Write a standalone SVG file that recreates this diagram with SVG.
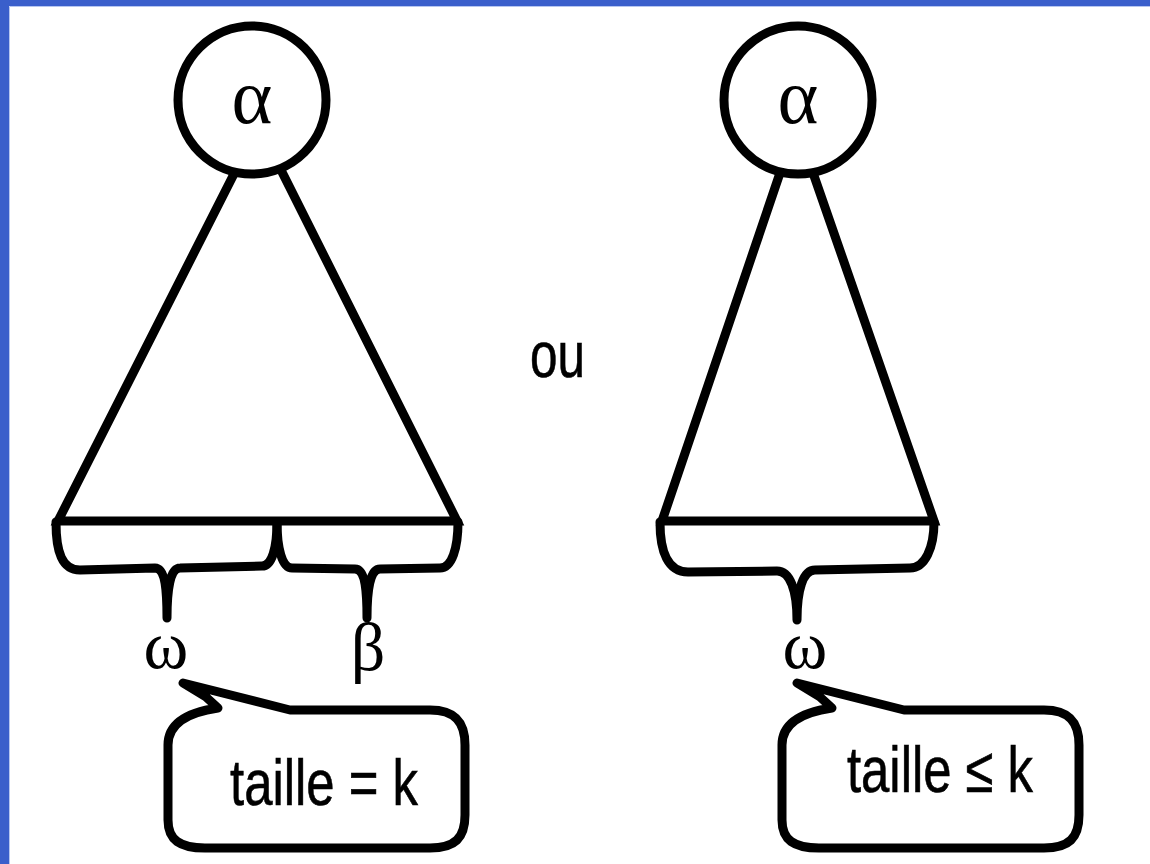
<svg xmlns="http://www.w3.org/2000/svg" width="1150" height="864" viewBox="0 0 1150 864">
  <style>
    .ln { fill: none; stroke: #000; stroke-width: 9; stroke-linejoin: miter; stroke-linecap: round; }
    .node { fill: #fff; stroke: #000; stroke-width: 9; }
    .brace { fill: none; stroke: #000; stroke-width: 9; stroke-linecap: round; stroke-linejoin: round; }
    .bubble { fill: #fff; stroke: #000; stroke-width: 9; stroke-linejoin: round; }
    .greek { font-family: "Liberation Serif", "DejaVu Serif", serif; fill: #000; text-anchor: middle; }
    .alpha { font-size: 78px; }
    .lbl { font-size: 68px; }
    .sans { font-family: "Liberation Sans", Arial, sans-serif; font-size: 64px; fill: #000; stroke: #000; stroke-width: 0.6; }
  </style>

  <rect x="0" y="0" width="1150" height="864" fill="#fff"/>
  <!-- slide frame edges -->
  <rect x="0" y="0" width="1150" height="6" fill="#3a5fcb"/>
  <rect x="0" y="0" width="9" height="864" fill="#3a5fcb"/>
  <path d="M9.5,864 V6.5 H1150" fill="none" stroke="#b6c6f0" stroke-width="1"/>

  <!-- triangles, bases and braces -->
  <g id="connectors">
    <path class="ln" d="M236,170 L58,521 L457,521 L280,168"/>
    <path class="brace" d="M56,522 C56,552 62,570 80,570 L155,568 C165,568 167,590 167,618 C167,590 170,568 180,568 L262,566 C272,566 277,548 277,522"/>
    <path class="brace" d="M277,522 C277,548 282,568 292,568 L355,569 C365,569 367,590 367,618 C367,590 370,569 380,569 L440,568 C452,568 458,548 458,522"/>

    <path class="ln" d="M781,170 L662,521 L934,521 L812,170"/>
    <path class="brace" d="M660,522 C660,552 668,572 688,572 L777,571 C790,571 797,590 797,620 C797,590 803,570 815,570 L910,568 C925,568 934,548 934,522"/>
  </g>

  <g id="root-left">
    <circle class="node" cx="252" cy="100" r="74"/>
    <text class="greek alpha" x="252" y="123">α</text>
  </g>
  <g id="root-right">
    <circle class="node" cx="798" cy="100" r="74"/>
    <text class="greek alpha" x="798" y="123">α</text>
  </g>

  <g id="label-omega-left"><text class="greek lbl" x="166" y="668">ω</text></g>
  <g id="label-beta"><text class="greek lbl" x="368" y="670">β</text></g>
  <g id="label-omega-right"><text class="greek lbl" x="805" y="668">ω</text></g>

  <g id="label-ou"><text class="sans" x="530" y="377" textLength="55" lengthAdjust="spacingAndGlyphs">ou</text></g>

  <g id="callout-left">
    <path class="bubble" d="M290,710 L183,683 L206,697 L218,708 C190,712 168,722 168,745 L168,820 C168,840 180,848 205,848 L430,848 C455,848 465,838 465,815 L465,745 C465,722 455,710 430,710 Z"/>
    <text class="sans" x="230" y="805" textLength="188" lengthAdjust="spacingAndGlyphs">taille = k</text>
  </g>

  <g id="callout-right">
    <path class="bubble" d="M904,710 L797,683 L820,697 L832,708 C804,712 782,722 782,745 L782,820 C782,840 794,848 819,848 L1044,848 C1069,848 1079,838 1079,815 L1079,745 C1079,722 1069,710 1044,710 Z"/>
    <text class="sans" x="847" y="792" textLength="186" lengthAdjust="spacingAndGlyphs">taille ≤ k</text>
  </g>
</svg>
